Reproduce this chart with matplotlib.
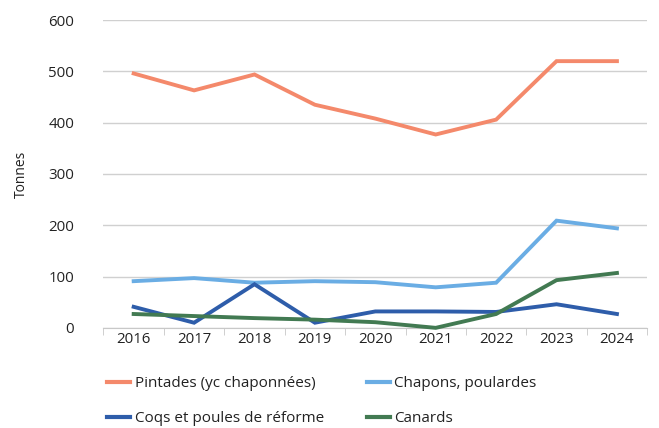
import matplotlib.pyplot as plt
from matplotlib.lines import Line2D

plt.rcParams['font.family'] = ['Open Sans', 'DejaVu Sans']

years = ['2016', '2017', '2018', '2019', '2020', '2021', '2022', '2023', '2024']
pintades = [496, 463, 494, 435, 408, 377, 406, 520, 520]
chapons = [91, 97, 88, 91, 89, 79, 88, 209, 194]
coqs = [41, 10, 85, 10, 32, 32, 31, 46, 27]
canards = [27, 23, 19, 16, 11, 0, 27, 93, 107]

labels = ['Pintades (yc chaponnées)', 'Chapons, poulardes',
          'Coqs et poules de réforme', 'Canards']
colors = ['#F4896B', '#6AADE4', '#2E5DAA', '#427A52']

fig = plt.figure(figsize=(6.59, 4.28), dpi=100)
ax = fig.add_axes([0.157, 0.234, 0.825, 0.719])

x = range(len(years))
for vals, col in zip([pintades, chapons, coqs, canards], colors):
    ax.plot(x, vals, color=col, lw=2.8, solid_joinstyle='miter', clip_on=False, zorder=3)

ax.set_xlim(-0.5, len(years) - 0.5)
ax.set_ylim(0, 600)
ax.set_yticks(range(0, 601, 100))
ax.yaxis.grid(True, color='#D0D0D0', lw=1)
ax.set_axisbelow(True)
ax.tick_params(axis='y', length=0, labelsize=10.8, pad=21, colors='#222222')

ax.set_xticks(list(x))
ax.set_xticklabels(years)
ax.set_xticks([i - 0.5 for i in range(len(years) + 1)], minor=True)
ax.tick_params(axis='x', which='major', length=0, labelsize=10.8, pad=3, colors='#222222')
ax.tick_params(axis='x', which='minor', length=5, color='#C8C8C8')

for s in ['top', 'right', 'left']:
    ax.spines[s].set_visible(False)
ax.spines['bottom'].set_color('#C8C8C8')

ax.set_ylabel('Tonnes', fontsize=10, color='#222222')
ax.yaxis.set_label_coords(-0.137, 0.5)

# legend fills column-wise: reorder so rows read Pintades/Chapons, Coqs/Canards
order = [0, 2, 1, 3]
handles = [Line2D([], [], color=colors[i], lw=3) for i in order]
fig.legend(handles, [labels[i] for i in order], loc='lower left',
           bbox_to_anchor=(0.142, -0.028), ncol=2, frameon=False, fontsize=11,
           handlelength=1.5, handletextpad=0.3, columnspacing=2.8,
           labelspacing=1.3, labelcolor='#222222')

fig.savefig('out.png', dpi=100)
